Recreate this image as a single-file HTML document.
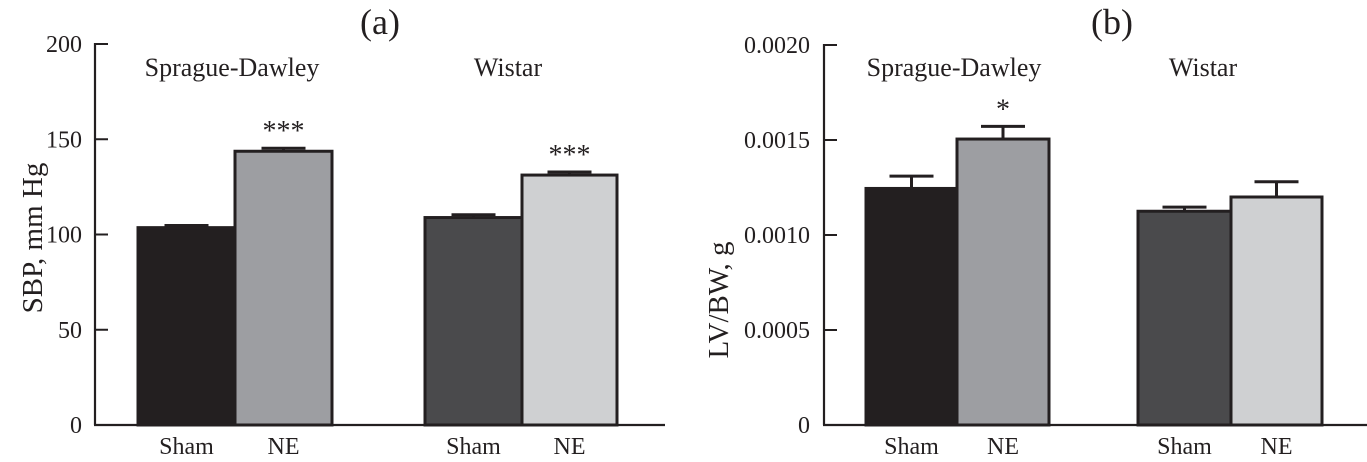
<!DOCTYPE html>
<html><head><meta charset="utf-8"><style>
html,body{margin:0;padding:0;background:#fff;}
svg{display:block;font-family:"Liberation Serif",serif;}
</style></head><body>
<svg id="chart" width="1367" height="462" viewBox="0 0 1367 462"></svg>
<script>
// Panel (a) data
const aGroups = ["Sprague-Dawley", "Wistar"];
const aCategories = ["Sham", "NE", "Sham", "NE"];
const aValues = [103.6, 143.7, 108.9, 131.2];
const aErrors = [1.1, 1.6, 1.5, 1.6];
const aTicks = [0, 50, 100, 150, 200];
const aTickLabels = ["0", "50", "100", "150", "200"];
const aSig = ["", "***", "", "***"];
// Panel (b) data
const bGroups = ["Sprague-Dawley", "Wistar"];
const bCategories = ["Sham", "NE", "Sham", "NE"];
const bValues = [0.001245, 0.001505, 0.001125, 0.0012];
const bErrors = [0.000065, 0.000067, 0.000022, 0.00008];
const bTicks = [0, 0.0005, 0.001, 0.0015, 0.002];
const bTickLabels = ["0", "0.0005", "0.0010", "0.0015", "0.0020"];
const bSig = ["", "*", "", ""];
const fills = ["#231f20", "#9d9ea2", "#4a4a4c", "#cfd0d2"];

const NS = "http://www.w3.org/2000/svg";
const svg = document.getElementById("chart");
function mk(tag, attrs, parent) {
  const e = document.createElementNS(NS, tag);
  for (const k in attrs) e.setAttribute(k, attrs[k]);
  (parent || svg).appendChild(e);
  return e;
}

function panel(cfg) {
  const g = mk("g", {});
  
  
  const y = v => cfg.y0 - (v / cfg.max) * (cfg.y0 - cfg.yTop);
  const ax = mk("line", {x1: cfg.ax, y1: y(cfg.max) - 1, x2: cfg.ax, y2: cfg.y0, stroke: "#231f20", "stroke-width": 2.2}, g);
  
  
  const bx = mk("line", {x1: cfg.ax - 1, y1: cfg.y0, x2: cfg.axEnd, y2: cfg.y0, stroke: "#231f20", "stroke-width": 2.2}, g);
  
  
  cfg.ticks.forEach((t, i) => {
    const tk = mk("line", {x1: cfg.ax, y1: y(t), x2: cfg.ax + 13, y2: y(t), stroke: "#231f20", "stroke-width": 2}, g);
    
    
    const tl = mk("text", {x: cfg.tickRight, y: y(t) + 8, "text-anchor": "end", "font-size": 24, fill: "#231f20"}, g);
    tl.textContent = cfg.tickLabels[i];
    
    
  });
  cfg.values.forEach((v, i) => {
    const l = cfg.barL[i], r2 = cfg.barR[i];
    const cx = (l + r2) / 2;
    const ey = y(v + cfg.errors[i]);
    const el = mk("line", {x1: cx, y1: y(v), x2: cx, y2: ey, stroke: "#231f20", "stroke-width": 3}, g);
    
    
    const cap = mk("line", {x1: cx - 22, y1: ey, x2: cx + 22, y2: ey, stroke: "#231f20", "stroke-width": 3}, g);
    
    
    const r = mk("rect", {x: l, y: y(v), width: r2 - l, height: cfg.y0 - y(v), fill: fills[i], stroke: "#231f20", "stroke-width": 3}, g);
    
    
    const xl = mk("text", {x: cx, y: 454, "text-anchor": "middle", "font-size": 24, fill: "#231f20"}, g);
    xl.textContent = cfg.categories[i];
    
    
    if (cfg.sig[i]) {
      const s = mk("text", {x: cx, y: ey - 8, "text-anchor": "middle", "font-size": 28, fill: "#231f20"}, g);
      s.textContent = cfg.sig[i];
      
      
    }
  });
  cfg.groups.forEach((gr, j) => {
    const t = mk("text", {x: cfg.groupX[j], y: 76, "text-anchor": "middle", "font-size": 26, fill: "#231f20"}, g);
    t.textContent = gr;
    
    
  });
  const ti = mk("text", {x: cfg.titleX, y: 34, "text-anchor": "middle", "font-size": 36, fill: "#231f20"}, g);
  ti.textContent = cfg.title;
  
  
  const yt = mk("text", {x: 0, y: 0, "text-anchor": "middle", "font-size": 29, fill: "#231f20", transform: "translate(" + cfg.ytX + "," + cfg.ytY + ") rotate(-90)"}, g);
  yt.textContent = cfg.yTitle;
  
  
}

panel({id: "panel-a", ax: 95, axEnd: 665, y0: 425, yTop: 44, max: 200, tickRight: 82,
  ticks: aTicks, tickLabels: aTickLabels, values: aValues, errors: aErrors, sig: aSig,
  categories: aCategories, groups: aGroups, groupsShort: ["sd", "wistar"],
  barL: [138, 235, 425, 522], barR: [235, 332, 522, 617],
  groupX: [232, 508], title: "(a)", titleX: 380, yTitle: "SBP, mm Hg", ytX: 42, ytY: 238});
panel({id: "panel-b", ax: 824, axEnd: 1367, y0: 425, yTop: 45, max: 0.002, tickRight: 810,
  ticks: bTicks, tickLabels: bTickLabels, values: bValues, errors: bErrors, sig: bSig,
  categories: bCategories, groups: bGroups, groupsShort: ["sd", "wistar"],
  barL: [866, 957, 1138, 1231], barR: [957, 1049, 1231, 1322],
  groupX: [954, 1203], title: "(b)", titleX: 1112, yTitle: "LV/BW, g", ytX: 728, ytY: 300});
</script>
</body></html>
